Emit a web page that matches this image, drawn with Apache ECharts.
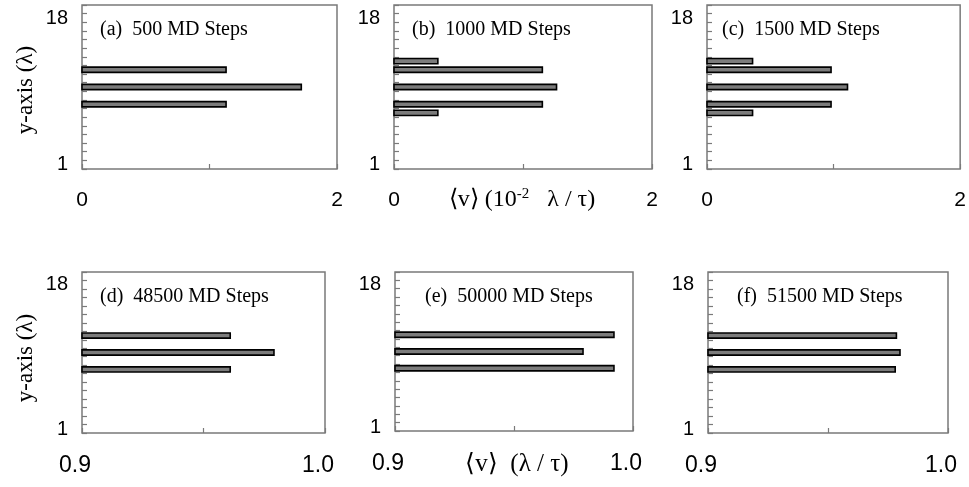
<!DOCTYPE html>
<html>
<head>
<meta charset="utf-8">
<script src="https://cdn.jsdelivr.net/npm/echarts@6/dist/echarts.min.js"></script>
<style>
html,body{margin:0;padding:0;background:#fff;}
#chart{width:969px;height:487px;}
</style>
</head>
<body>
<div id="chart"></div>
<script>
// ---- data ----
const panelTitles = ['(a)  500 MD Steps', '(b)  1000 MD Steps', '(c)  1500 MD Steps',
                     '(d)  48500 MD Steps', '(e)  50000 MD Steps', '(f)  51500 MD Steps'];
const yPosA = [7.5, 9.5, 11.5];
const valA  = [1.13, 1.72, 1.13];
const yPosB = [6.5, 7.5, 9.5, 11.5, 12.5];
const valB  = [0.34, 1.15, 1.26, 1.15, 0.34];
const yPosC = [6.5, 7.5, 9.5, 11.5, 12.5];
const valC  = [0.36, 0.98, 1.11, 0.98, 0.36];
const yPosD = [7.5, 9.5, 11.5];
const valD  = [0.961, 0.979, 0.961];
const yPosE = [7.5, 9.5, 11.5];
const valE  = [0.992, 0.979, 0.992];
const yPosF = [7.5, 9.5, 11.5];
const valF  = [0.978, 0.980, 0.9785];
const yTickLabels = [1, 18];
const xRangeTop = [0, 2];
const xRangeBottom = [0.9, 1.0];
const xNameTop = '⟨v⟩ (10{sup|-2}   λ / τ)';
const xNameBottom = '⟨v⟩  (λ / τ)';
const yName = 'y-axis (λ)';

const panels = [
  {y: yPosA, v: valA, range: xRangeTop,    interval: 1,    grid: {left: 82,  top: 5,   width: 255, height: 164}, title: [100, 30],  shiftLabel: 0,  xFont: 21},
  {y: yPosB, v: valB, range: xRangeTop,    interval: 1,    grid: {left: 394, top: 5,   width: 258, height: 164}, title: [412, 30],  shiftLabel: 0,  xFont: 21},
  {y: yPosC, v: valC, range: xRangeTop,    interval: 1,    grid: {left: 707, top: 5,   width: 256, height: 164}, title: [722, 30],  shiftLabel: 0,  xFont: 21},
  {y: yPosD, v: valD, range: xRangeBottom, interval: 0.05, grid: {left: 82,  top: 272, width: 243, height: 161}, title: [100, 297], shiftLabel: 14, xFont: 23},
  {y: yPosE, v: valE, range: xRangeBottom, interval: 0.05, grid: {left: 395, top: 272, width: 238, height: 159}, title: [425, 297], shiftLabel: 14, xFont: 23},
  {y: yPosF, v: valF, range: xRangeBottom, interval: 0.05, grid: {left: 708, top: 272, width: 240, height: 161}, title: [737, 297], shiftLabel: 14, xFont: 23}
];

const frameColor = '#7a7a7a';
const grids = [], xAxes = [], yAxes = [], series = [], graphics = [];

panels.forEach((p, i) => {
  grids.push(Object.assign({show: true, borderColor: frameColor, borderWidth: 1.5, backgroundColor: 'transparent'}, p.grid));
  const lo = p.range[0], hi = p.range[1];
  xAxes.push({
    type: 'value', gridIndex: i, min: lo, max: hi, interval: p.interval,
    splitLine: {show: false},
    axisLine: {show: false},
    axisTick: {show: true, inside: true, length: 5, lineStyle: {color: frameColor, width: 1.2}},
    axisLabel: {
      show: true, margin: 21, color: '#000', fontFamily: 'Liberation Sans', fontSize: p.xFont,
      padding: [0, p.shiftLabel, 0, 0],
      showMinLabel: true, showMaxLabel: true,
      formatter: function (val) {
        if (Math.abs(val - lo) < 1e-9) return lo === 0 ? '0' : lo.toFixed(1);
        if (Math.abs(val - hi) < 1e-9) return hi === 2 ? '2' : hi.toFixed(1);
        return '';
      }
    }
  });
  yAxes.push({
    type: 'value', gridIndex: i, min: 0, max: 19, interval: 1,
    splitLine: {show: false},
    axisLine: {show: false},
    axisTick: {show: true, inside: true, length: 5, lineStyle: {color: frameColor, width: 1.2}},
    axisLabel: {
      show: true, margin: 14, color: '#000', fontFamily: 'Liberation Sans', fontSize: 20,
      rich: {n: {fontFamily: 'Liberation Sans', fontSize: 20, color: '#000', padding: [9, 0, 0, 0]}},
      formatter: function (val) {
        const r = Math.round(val);
        return (yTickLabels.indexOf(r) >= 0 && Math.abs(val - r) < 1e-9) ? '{n|' + r + '}' : '';
      }
    }
  });
  const data = p.y.map((yy, k) => [p.v[k], yy]);
  series.push({
    type: 'custom', xAxisIndex: i, yAxisIndex: i, data: data,
    encode: {x: 0, y: 1},
    clip: false,
    renderItem: function (params, api) {
      const yy = api.value(1), vv = api.value(0);
      const a = api.coord([lo, yy]);
      const b = api.coord([vv, yy]);
      return {
        type: 'rect',
        shape: {x: a[0], y: a[1] - 2.6, width: b[0] - a[0], height: 5.2},
        style: {fill: '#7c7c7c', stroke: '#000', lineWidth: 1.6}
      };
    }
  });
  graphics.push({
    type: 'text', x: p.title[0], y: p.title[1],
    style: {text: panelTitles[i], fill: '#000', font: '20px "Liberation Serif"', verticalAlign: 'middle'}
  });
});

// axis names
graphics.push({
  type: 'text', x: 522, y: 200,
  style: {
    text: xNameTop, fill: '#000', font: '24px "Liberation Serif"',
    align: 'center', verticalAlign: 'middle',
    rich: {sup: {fontSize: 15, fontFamily: 'Liberation Serif', verticalAlign: 'top', padding: [0, 0, 12, 0], fill: '#000'}}
  }
});
graphics.push({
  type: 'text', x: 517, y: 464,
  style: {text: xNameBottom, fill: '#000', font: '25px "Liberation Serif"', align: 'center', verticalAlign: 'middle'}
});
graphics.push({
  type: 'text', x: 26, y: 90, rotation: Math.PI / 2,
  style: {text: yName, fill: '#000', font: '23px "Liberation Serif"', align: 'center', verticalAlign: 'middle'}
});
graphics.push({
  type: 'text', x: 26, y: 358, rotation: Math.PI / 2,
  style: {text: yName, fill: '#000', font: '23px "Liberation Serif"', align: 'center', verticalAlign: 'middle'}
});

const chart = echarts.init(document.getElementById('chart'), null, {renderer: 'canvas'});
chart.setOption({
  animation: false,
  backgroundColor: '#fff',
  grid: grids,
  xAxis: xAxes,
  yAxis: yAxes,
  series: series,
  graphic: graphics
});
</script>
</body>
</html>
